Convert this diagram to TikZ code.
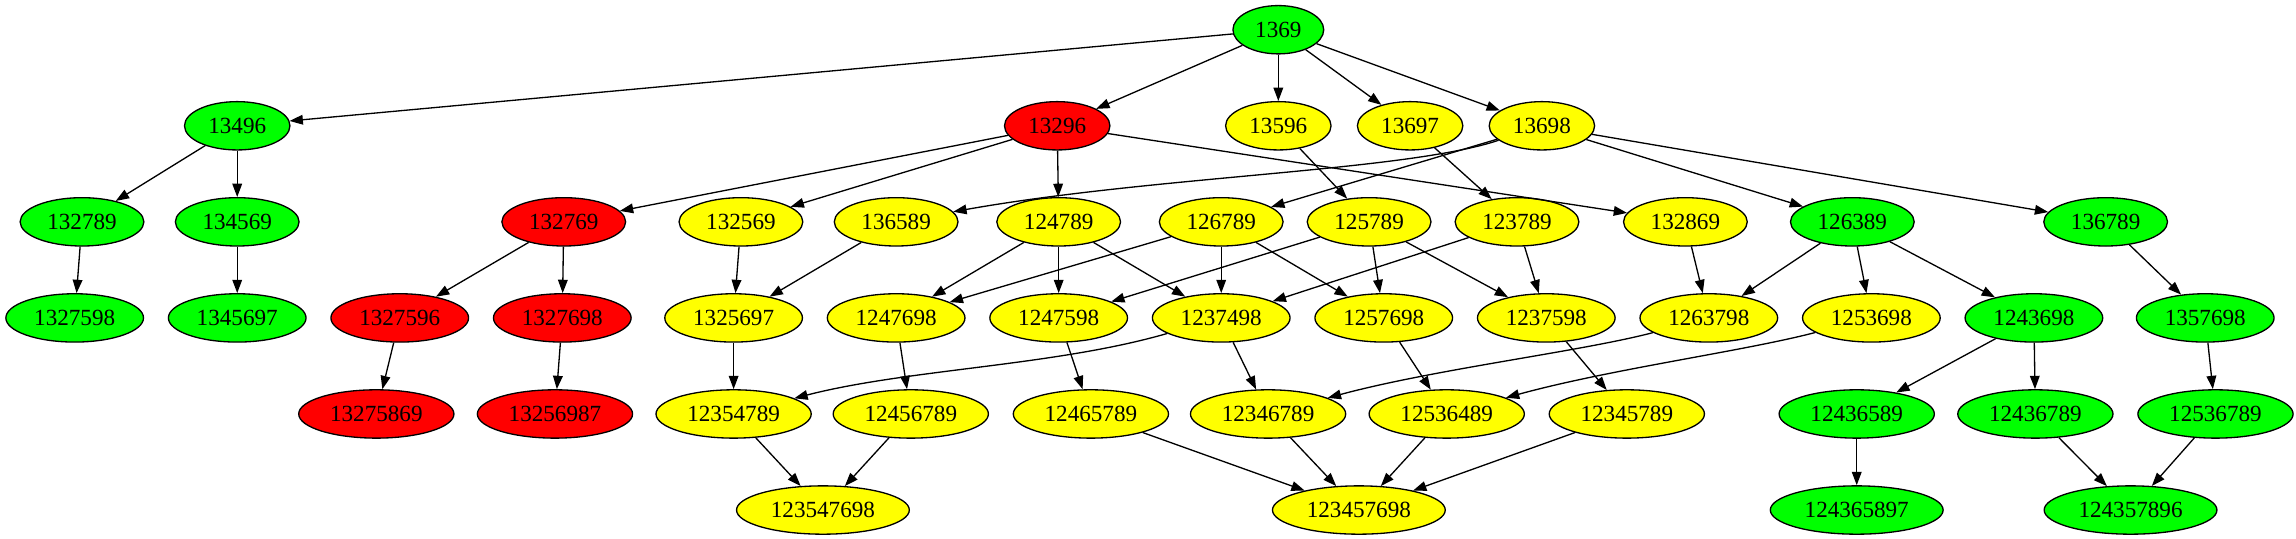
\documentclass[tikz,border=0pt]{standalone}
\usepackage{fontspec}
\setmainfont{Liberation Serif}
\usetikzlibrary{shapes.geometric,arrows.meta}
\definecolor{cG}{RGB}{0,255,0}
\definecolor{cR}{RGB}{255,0,0}
\definecolor{cY}{RGB}{255,255,0}
\tikzset{
  gn/.style={ellipse, draw=black, line width=0.9pt, inner sep=0pt, minimum height=33pt,
    font=\fontsize{15.8}{18}\selectfont},
  G/.style={fill=cG}, R/.style={fill=cR}, Y/.style={fill=cY},
  w4/.style={minimum width=62pt}, w5/.style={minimum width=72pt},
  w6/.style={minimum width=84.5pt}, w7/.style={minimum width=94pt},
  w8/.style={minimum width=106pt}, w9/.style={minimum width=118pt},
  edge/.style={draw=black, line width=0.9pt, -{Triangle[length=9.1pt,width=6.6pt]}}
}
\begin{document}
\begin{tikzpicture}[x=1pt,y=-1pt]
\useasboundingbox (0,0) rectangle (1568,368);
% row 0
\node[gn,G,w4] (n1369) at (873,20.3) {1369};
% row 1
\node[gn,G,w5] (n13496) at (162,85.9) {13496};
\node[gn,R,w5] (n13296) at (722,85.9) {13296};
\node[gn,Y,w5] (n13596) at (873,85.9) {13596};
\node[gn,Y,w5] (n13697) at (963,85.9) {13697};
\node[gn,Y,w5] (n13698) at (1053,85.9) {13698};
% row 2
\node[gn,G,w6] (n132789) at (56,151.5) {132789};
\node[gn,G,w6] (n134569) at (162,151.5) {134569};
\node[gn,R,w6] (n132769) at (385,151.5) {132769};
\node[gn,Y,w6] (n132569) at (506,151.5) {132569};
\node[gn,Y,w6] (n136589) at (612,151.5) {136589};
\node[gn,Y,w6] (n124789) at (723,151.5) {124789};
\node[gn,Y,w6] (n126789) at (834,151.5) {126789};
\node[gn,Y,w6] (n125789) at (935,151.5) {125789};
\node[gn,Y,w6] (n123789) at (1036,151.5) {123789};
\node[gn,Y,w6] (n132869) at (1151,151.5) {132869};
\node[gn,G,w6] (n126389) at (1265,151.5) {126389};
\node[gn,G,w6] (n136789) at (1438,151.5) {136789};
% row 3
\node[gn,G,w7] (n1327598) at (51,217.1) {1327598};
\node[gn,G,w7] (n1345697) at (162,217.1) {1345697};
\node[gn,R,w7] (n1327596) at (273,217.1) {1327596};
\node[gn,R,w7] (n1327698) at (384,217.1) {1327698};
\node[gn,Y,w7] (n1325697) at (501,217.1) {1325697};
\node[gn,Y,w7] (n1247698) at (612,217.1) {1247698};
\node[gn,Y,w7] (n1247598) at (723,217.1) {1247598};
\node[gn,Y,w7] (n1237498) at (834,217.1) {1237498};
\node[gn,Y,w7] (n1257698) at (945,217.1) {1257698};
\node[gn,Y,w7] (n1237598) at (1056,217.1) {1237598};
\node[gn,Y,w7] (n1263798) at (1167,217.1) {1263798};
\node[gn,Y,w7] (n1253698) at (1278,217.1) {1253698};
\node[gn,G,w7] (n1243698) at (1389,217.1) {1243698};
\node[gn,G,w7] (n1357698) at (1506,217.1) {1357698};
% row 4
\node[gn,R,w8] (n13275869) at (257,282.7) {13275869};
\node[gn,R,w8] (n13256987) at (379,282.7) {13256987};
\node[gn,Y,w8] (n12354789) at (501,282.7) {12354789};
\node[gn,Y,w8] (n12456789) at (622,282.7) {12456789};
\node[gn,Y,w8] (n12465789) at (745,282.7) {12465789};
\node[gn,Y,w8] (n12346789) at (866,282.7) {12346789};
\node[gn,Y,w8] (n12536489) at (988,282.7) {12536489};
\node[gn,Y,w8] (n12345789) at (1111,282.7) {12345789};
\node[gn,G,w8] (n12436589) at (1268,282.7) {12436589};
\node[gn,G,w8] (n12436789) at (1390,282.7) {12436789};
\node[gn,G,w8] (n12536789) at (1513,282.7) {12536789};
% row 5
\node[gn,Y,w9] (n123547698) at (562,348.3) {123547698};
\node[gn,Y,w9] (n123457698) at (928,348.3) {123457698};
\node[gn,G,w9] (n124365897) at (1268,348.3) {124365897};
\node[gn,G,w9] (n124357896) at (1455,348.3) {124357896};
% edges
\draw[edge] (n1369) -- (n13496);
\draw[edge] (n1369) -- (n13296);
\draw[edge] (n1369) -- (n13596);
\draw[edge] (n1369) -- (n13697);
\draw[edge] (n1369) -- (n13698);
\draw[edge] (n13496) -- (n132789);
\draw[edge] (n13496) -- (n134569);
\draw[edge] (n13296) -- (n132769);
\draw[edge] (n13296) -- (n132569);
\draw[edge] (n13296) -- (n124789);
\draw[edge] (n13296) -- (n132869);
\draw[edge] (n13596) -- (n125789);
\draw[edge] (n13697) -- (n123789);
\draw[edge] (n13698) .. controls (960,117) and (790,120) .. (n136589);
\draw[edge] (n13698) -- (n126789);
\draw[edge] (n13698) -- (n126389);
\draw[edge] (n13698) -- (n136789);
\draw[edge] (n132789) -- (n1327598);
\draw[edge] (n134569) -- (n1345697);
\draw[edge] (n132769) -- (n1327596);
\draw[edge] (n132769) -- (n1327698);
\draw[edge] (n132569) -- (n1325697);
\draw[edge] (n136589) -- (n1325697);
\draw[edge] (n124789) -- (n1247698);
\draw[edge] (n124789) -- (n1247598);
\draw[edge] (n124789) -- (n1237498);
\draw[edge] (n126789) -- (n1247698);
\draw[edge] (n126789) -- (n1237498);
\draw[edge] (n126789) -- (n1257698);
\draw[edge] (n125789) -- (n1247598);
\draw[edge] (n125789) -- (n1257698);
\draw[edge] (n125789) -- (n1237598);
\draw[edge] (n123789) -- (n1237498);
\draw[edge] (n123789) -- (n1237598);
\draw[edge] (n132869) -- (n1263798);
\draw[edge] (n126389) -- (n1263798);
\draw[edge] (n126389) -- (n1253698);
\draw[edge] (n126389) -- (n1243698);
\draw[edge] (n136789) -- (n1357698);
\draw[edge] (n1327596) -- (n13275869);
\draw[edge] (n1327698) -- (n13256987);
\draw[edge] (n1325697) -- (n12354789);
\draw[edge] (n1237498) .. controls (720,250) and (620,252) .. (n12354789);
\draw[edge] (n1247698) -- (n12456789);
\draw[edge] (n1247598) -- (n12465789);
\draw[edge] (n1237498) -- (n12346789);
\draw[edge] (n1263798) .. controls (1080,240) and (980,252) .. (n12346789);
\draw[edge] (n1257698) -- (n12536489);
\draw[edge] (n1253698) .. controls (1190,240) and (1100,252) .. (n12536489);
\draw[edge] (n1237598) -- (n12345789);
\draw[edge] (n1243698) -- (n12436589);
\draw[edge] (n1243698) -- (n12436789);
\draw[edge] (n1357698) -- (n12536789);
\draw[edge] (n12354789) -- (n123547698);
\draw[edge] (n12456789) -- (n123547698);
\draw[edge] (n12465789) -- (n123457698);
\draw[edge] (n12346789) -- (n123457698);
\draw[edge] (n12536489) -- (n123457698);
\draw[edge] (n12345789) -- (n123457698);
\draw[edge] (n12436589) -- (n124365897);
\draw[edge] (n12436789) -- (n124357896);
\draw[edge] (n12536789) -- (n124357896);
\end{tikzpicture}
\end{document}
